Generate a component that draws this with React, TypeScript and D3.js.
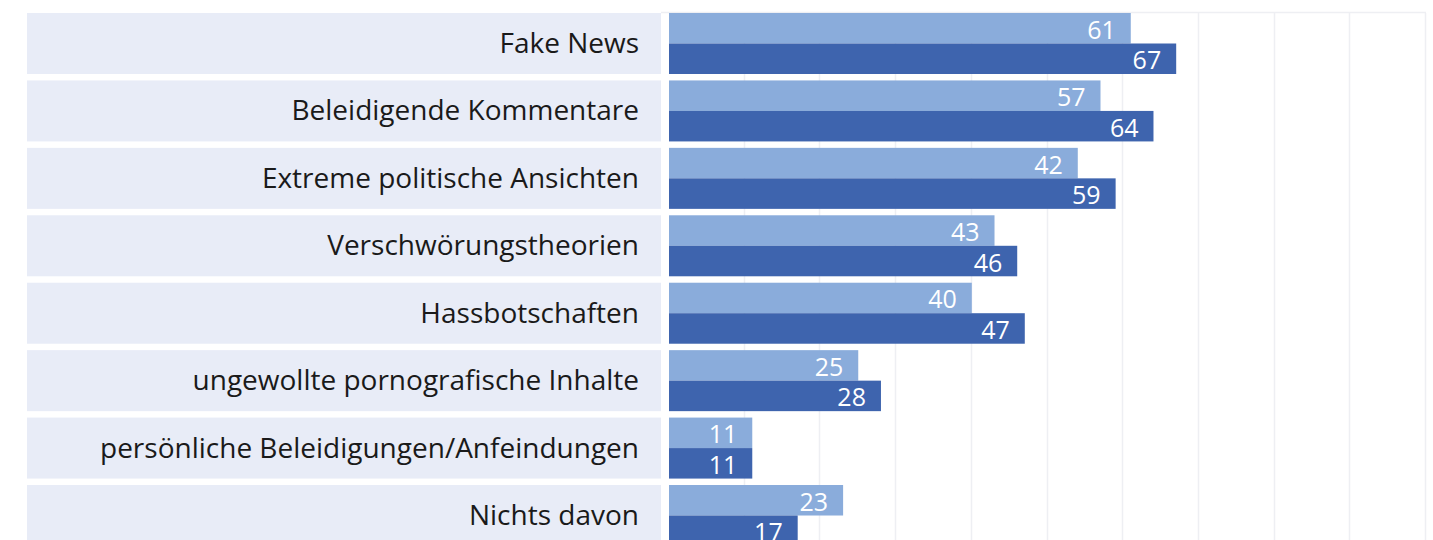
import React from "react";
import * as d3 from "d3";

const categories = [
  "Fake News",
  "Beleidigende Kommentare",
  "Extreme politische Ansichten",
  "Verschwörungstheorien",
  "Hassbotschaften",
  "ungewollte pornografische Inhalte",
  "persönliche Beleidigungen/Anfeindungen",
  "Nichts davon",
];
// bar lengths as drawn in the reference
const barsLight = [61, 57, 54, 43, 40, 25, 11, 23];
const barsDark = [67, 64, 59, 46, 47, 28, 11, 17];
// value labels as printed in the reference
const labelsLight = ["61", "57", "42", "43", "40", "25", "11", "23"];
const labelsDark = ["67", "64", "59", "46", "47", "28", "11", "17"];
const gridTicks = [10, 20, 30, 40, 50, 60, 70, 80, 90, 100];

const W = 1433;
const H = 560;
const labelX0 = 27;
const labelX1 = 661;
const plotX0 = 669;
const plotX1 = 1426;
const top = 13;
const rowStep = 67.43;
const bandH = 61;

const FONT = "'Open Sans', 'DejaVu Sans', sans-serif";

export default function App() {
  const x = d3.scaleLinear().domain([0, 100]).range([plotX0, plotX1]);
  const n = categories.length;
  const y = d3
    .scaleBand<number>()
    .domain(d3.range(n))
    .range([top, top + rowStep * (n - 1) + bandH])
    .paddingInner((rowStep - bandH) / rowStep)
    .paddingOuter(0);
  const bh = y.bandwidth();
  return (
    <svg
      width={W}
      height={H}
      style={{ position: "absolute", left: 0, top: 0, display: "block", background: "#fff" }}
    >
      {gridTicks.map((t) => (
        <line
          key={t}
          x1={Math.round(x(t)) - 0.5}
          x2={Math.round(x(t)) - 0.5}
          y1={top}
          y2={H}
          stroke="#eeeff3"
          strokeWidth={1.5}
        />
      ))}
      <line x1={labelX1} x2={x(100)} y1={top - 0.5} y2={top - 0.5} stroke="#eeeff3" strokeWidth={1.5} />
      {categories.map((c, i) => {
        const y0 = y(i)!;
        const half = bh / 2;
        return (
          <g key={c}>
            <rect x={labelX0} y={y0} width={labelX1 - labelX0} height={bh} fill="#e8ecf7" />
            <text
              x={639}
              y={y0 + half + 9.5}
              textAnchor="end"
              fontFamily={FONT}
              fontSize={28}
              fill="#1a1a1a"
            >
              {c}
            </text>
            <rect x={x(0)} y={y0} width={x(barsLight[i]) - x(0)} height={half} fill="#8aacdb" />
            <rect x={x(0)} y={y0 + half} width={x(barsDark[i]) - x(0)} height={half} fill="#3e64ae" />
            <text
              x={x(barsLight[i]) - 15}
              y={y0 + half / 2 + 10.5}
              textAnchor="end"
              fontFamily={FONT}
              fontSize={25}
              fill="#ffffff"
            >
              {labelsLight[i]}
            </text>
            <text
              x={x(barsDark[i]) - 15}
              y={y0 + half + half / 2 + 10.5}
              textAnchor="end"
              fontFamily={FONT}
              fontSize={25}
              fill="#ffffff"
            >
              {labelsDark[i]}
            </text>
          </g>
        );
      })}
    </svg>
  );
}
